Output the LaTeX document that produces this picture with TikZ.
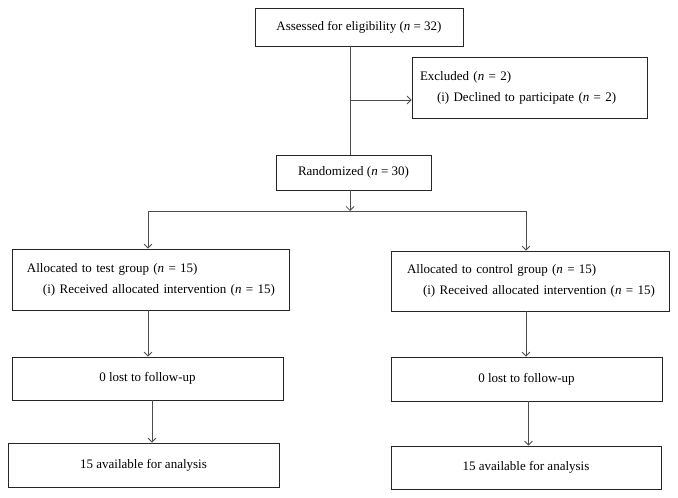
\documentclass[tikz,border=0pt]{standalone}
\usepackage{fontspec}
\setmainfont{Liberation Serif}
\usetikzlibrary{arrows.meta}
\tikzset{
  box/.style={draw=black!85, line width=0.8pt, inner sep=0pt, font=\fontsize{13}{21}\selectfont, minimum height=#1},
  lbox/.style={box=#1, align=left},
  conn/.style={draw=black!70, line width=0.9pt},
  arr/.style={conn, -{Straight Barb[length=4pt,width=8pt,line width=0.8pt]}}
}
\newcommand{\nn}{\textit{n}}
\begin{document}
\begin{tikzpicture}[x=1pt,y=-1pt]
\useasboundingbox (0,0) rectangle (678,498);
\node[box=38pt, minimum width=208pt] (assess) at (359,27) {Assessed for eligibility (\nn{} = 32)};
\node[lbox=61pt, text width=219pt, inner xsep=8pt] (excl) at (529.5,87.5)
  {\mbox{Excluded (\nn{} = 2)}\\\mbox{\hspace*{17pt}(i) Declined to participate (\nn{} = 2)}};
\node[box=35pt, minimum width=155pt] (rand) at (353.5,172.5) {Randomized (\nn{} = 30)};
\node[lbox=61pt, text width=247pt, inner xsep=15pt] (testA) at (150.5,279.5)
  {\mbox{Allocated to test group (\nn{} = 15)}\\\mbox{\hspace*{16pt}(i) Received allocated intervention (\nn{} = 15)}};
\node[lbox=60pt, text width=246pt, inner xsep=16pt] (ctrlA) at (530,281)
  {\mbox{Allocated to control group (\nn{} = 15)}\\\mbox{\hspace*{16pt}(i) Received allocated intervention (\nn{} = 15)}};
\node[box=43pt, minimum width=271pt] (testL) at (147.5,378.5) {0 lost to follow-up};
\node[box=44pt, minimum width=271pt] (ctrlL) at (526.5,379) {0 lost to follow-up};
\node[box=44pt, minimum width=271pt] (testV) at (143.5,465) {15 available for analysis};
\node[box=43pt, minimum width=270pt] (ctrlV) at (526,467.5) {15 available for analysis};
% guide coordinates
\coordinate (mx) at (350,0);
\coordinate (exy) at (0,100);
\coordinate (bry) at (0,211);
\coordinate (lx) at (148,0);
\coordinate (rx) at (526,0);
\coordinate (lx2) at (152,0);
\coordinate (rx2) at (528.5,0);
% connectors
\draw[conn] (assess.south -| mx) -- (rand.north -| mx);
\draw[arr] (mx |- exy) -- (excl.west |- exy);
\draw[arr] (rand.south -| mx) -- (mx |- bry);
\draw[arr] (mx |- bry) -- (lx |- bry) -- (testA.north -| lx);
\draw[arr] (mx |- bry) -- (rx |- bry) -- (ctrlA.north -| rx);
\draw[arr] (testA.south -| lx) -- (testL.north -| lx);
\draw[arr] (ctrlA.south -| rx) -- (ctrlL.north -| rx);
\draw[arr] (testL.south -| lx2) -- (testV.north -| lx2);
\draw[arr] (ctrlL.south -| rx2) -- (ctrlV.north -| rx2);
\end{tikzpicture}
\end{document}
